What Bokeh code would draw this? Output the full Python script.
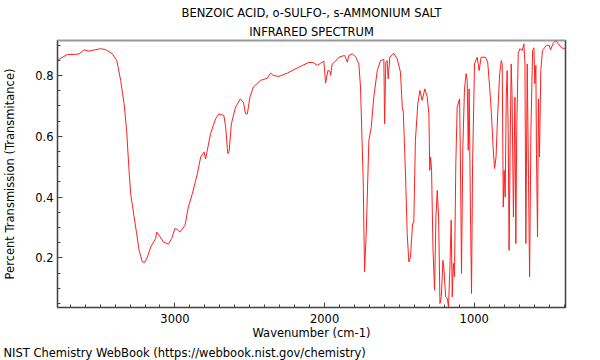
from bokeh.plotting import figure
from bokeh.models import Range1d, FixedTicker, LinearAxis, Title
from bokeh.embed import file_html
from bokeh.resources import INLINE

title_line1 = "BENZOIC ACID, o-SULFO-, s-AMMONIUM SALT"
title_line2 = "INFRARED SPECTRUM"
x_label = "Wavenumber (cm-1)"
y_label = "Percent Transmission (Transmitance)"
footer = "NIST Chemistry WebBook (https://webbook.nist.gov/chemistry)"

wavenumber = [
    3784, 3719, 3674, 3641, 3607, 3574, 3540, 3496, 3463, 3418, 3389, 3363,
    3340, 3323, 3307, 3296, 3273, 3256, 3240, 3218, 3202, 3184, 3162, 3129,
    3122, 3107, 3077, 3044, 3022, 3000, 2984, 2967, 2933, 2911, 2884, 2850,
    2828, 2806, 2795, 2784, 2762, 2728, 2706, 2673, 2661, 2650, 2646, 2638,
    2623, 2595, 2563, 2543, 2528, 2516, 2499, 2476, 2428, 2383, 2361, 2343,
    2305, 2249, 2182, 2105, 2075, 2049, 2027, 2005, 1993, 1978, 1965, 1960,
    1949, 1927, 1904, 1866, 1848, 1838, 1815, 1793, 1771, 1760, 1742, 1733,
    1721, 1704, 1688, 1671, 1648, 1626, 1604, 1599, 1591, 1582, 1575, 1564,
    1539, 1515, 1493, 1481, 1474, 1459, 1448, 1437, 1426, 1412, 1404, 1393,
    1377, 1363, 1348, 1330, 1314, 1303, 1297, 1292, 1285, 1276, 1265, 1256,
    1247, 1238, 1229, 1220, 1209, 1202, 1191, 1180, 1172, 1163, 1154, 1147,
    1140, 1132, 1123, 1114, 1098, 1092, 1085, 1076, 1065, 1054, 1047, 1040,
    1034, 1025, 1018, 1011, 998, 980, 967, 954, 925, 910, 897, 885,
    874, 864, 854, 844, 830, 819, 813, 806, 800, 793, 786, 780,
    773, 767, 760, 753, 747, 738, 728, 722, 716, 706, 695, 679,
    668, 661, 655, 646, 637, 630, 621, 610, 601, 595, 588, 584,
    577, 571, 564, 555, 544, 518, 499, 490, 472, 454, 439, 416,
    394,
]
transmittance = [
    0.851, 0.869, 0.869, 0.871, 0.884, 0.880, 0.884, 0.888, 0.885, 0.871, 0.849, 0.784,
    0.707, 0.619, 0.488, 0.411, 0.335, 0.280, 0.225, 0.187, 0.185, 0.203, 0.236, 0.264,
    0.285, 0.275, 0.253, 0.245, 0.264, 0.297, 0.293, 0.285, 0.307, 0.367, 0.411, 0.477,
    0.532, 0.548, 0.526, 0.554, 0.609, 0.658, 0.674, 0.668, 0.630, 0.560, 0.543, 0.550,
    0.641, 0.696, 0.723, 0.712, 0.674, 0.674, 0.729, 0.762, 0.784, 0.791, 0.808, 0.800,
    0.797, 0.808, 0.825, 0.843, 0.842, 0.833, 0.840, 0.847, 0.775, 0.816, 0.814, 0.800,
    0.838, 0.847, 0.860, 0.866, 0.844, 0.866, 0.871, 0.862, 0.838, 0.762, 0.455, 0.154,
    0.291, 0.587, 0.630, 0.729, 0.816, 0.849, 0.853, 0.641, 0.844, 0.849, 0.789, 0.860,
    0.873, 0.855, 0.811, 0.696, 0.680, 0.470, 0.280, 0.187, 0.203, 0.313, 0.315, 0.587,
    0.707, 0.751, 0.718, 0.756, 0.729, 0.674, 0.488, 0.532, 0.488, 0.236, 0.094, 0.335,
    0.422, 0.335, 0.050, 0.072, 0.192, 0.160, 0.072, 0.067, 0.039, 0.160, 0.324, 0.072,
    0.182, 0.138, 0.510, 0.696, 0.723, 0.510, 0.149, 0.565, 0.756, 0.806, 0.784, 0.554,
    0.756, 0.346, 0.083, 0.510, 0.838, 0.860, 0.816, 0.860, 0.860, 0.844, 0.762, 0.674,
    0.565, 0.494, 0.532, 0.663, 0.806, 0.849, 0.838, 0.367, 0.488, 0.400, 0.729, 0.816,
    0.619, 0.225, 0.565, 0.838, 0.729, 0.335, 0.729, 0.247, 0.619, 0.871, 0.888, 0.882,
    0.904, 0.838, 0.247, 0.838, 0.455, 0.138, 0.619, 0.882, 0.891, 0.773, 0.833, 0.543,
    0.269, 0.723, 0.532, 0.816, 0.882, 0.899, 0.899, 0.884, 0.906, 0.915, 0.904, 0.891,
    0.888,
]

x_major_ticks = [1000, 2000, 3000]
x_minor_ticks = list(range(400, 3800, 100))
y_major_ticks = [0.2, 0.4, 0.6, 0.8]
y_minor_ticks = [0.05, 0.1, 0.15, 0.25, 0.3, 0.35, 0.45, 0.5, 0.55, 0.65, 0.7, 0.75, 0.85, 0.9]

FONT = "DejaVu Sans"
FS = "11.5px"
AXC = "#444444"

p = figure(width=600, height=360, output_backend="svg", toolbar_location=None,
           x_range=Range1d(3785, 390), y_range=Range1d(0.037, 0.915),
           min_border_left=57, min_border_right=35, min_border_top=40, min_border_bottom=53)
p.background_fill_color = "white"
p.border_fill_color = "white"
p.grid.visible = False
p.outline_line_color = "#999999"
p.outline_line_width = 2

p.line(wavenumber, transmittance, line_color="#ff2020", line_width=1)

for ax in (p.xaxis[0], p.yaxis[0]):
    ax.axis_line_color = AXC
    ax.major_tick_line_color = AXC
    ax.minor_tick_line_color = AXC
    ax.major_tick_out = 0
    ax.minor_tick_out = 0
    ax.major_tick_in = 5
    ax.minor_tick_in = 3
    ax.major_label_text_font = FONT
    ax.major_label_text_font_size = FS
    ax.major_label_text_color = "black"
    ax.axis_label_text_font = FONT
    ax.axis_label_text_font_size = FS
    ax.axis_label_text_font_style = "normal"
    ax.axis_label_text_color = "black"

p.xaxis[0].ticker = FixedTicker(ticks=x_major_ticks, minor_ticks=x_minor_ticks)
p.yaxis[0].ticker = FixedTicker(ticks=y_major_ticks, minor_ticks=y_minor_ticks)
p.xaxis[0].axis_label = x_label
p.yaxis[0].axis_label = y_label
p.xaxis[0].major_label_standoff = 6
p.xaxis[0].axis_label_standoff = 0
p.yaxis[0].major_label_standoff = 4
p.yaxis[0].axis_label_standoff = 15

right = LinearAxis(axis_line_color=AXC, major_tick_line_color=None, minor_tick_line_color=None,
                   major_label_text_font_size="0px", ticker=FixedTicker(ticks=[]))
p.add_layout(right, "right")

p.add_layout(Title(text=title_line2, align="center", text_font=FONT, text_font_size=FS,
                   text_font_style="normal", text_color="black", standoff=3), "above")
p.add_layout(Title(text=title_line1, align="center", text_font=FONT, text_font_size=FS,
                   text_font_style="normal", text_color="black", standoff=3), "above")
p.add_layout(Title(text=footer, align="left", offset=-54, text_font=FONT, text_font_size=FS,
                   text_font_style="normal", text_color="black", standoff=2), "below")

open("out.html", "w").write(file_html(p, INLINE))
